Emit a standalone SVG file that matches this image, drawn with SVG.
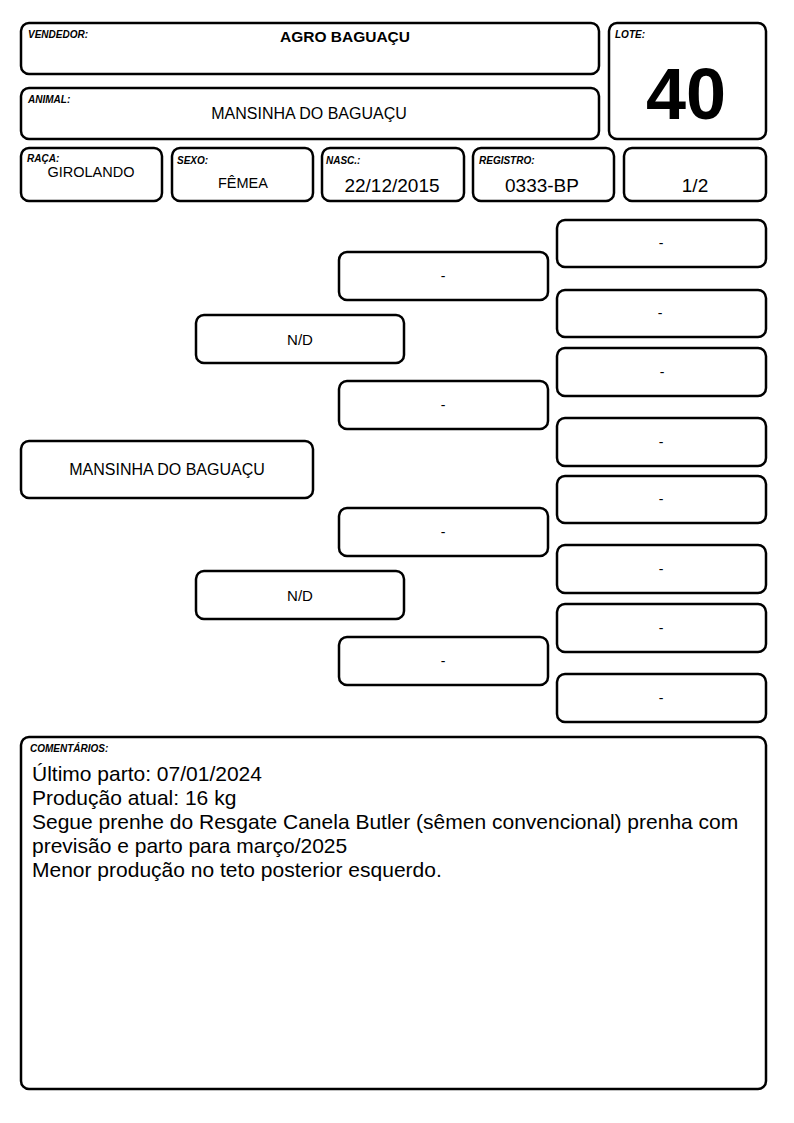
<svg xmlns="http://www.w3.org/2000/svg" width="794" height="1123" viewBox="0 0 794 1123">
<style>
.b{fill:#fff;stroke:#000;stroke-width:2.5}
.lb{font-family:"Liberation Sans",Arial,sans-serif;font-weight:bold;font-style:italic;font-size:10px;fill:#000}
.t{font-family:"Liberation Sans",Arial,sans-serif;fill:#000;text-anchor:middle}
.d{font-family:"Liberation Sans",Arial,sans-serif;fill:#000;text-anchor:middle;font-size:14px}
.c{font-family:"Liberation Sans",Arial,sans-serif;fill:#000;font-size:21px}
</style>
<rect width="794" height="1123" fill="#fff"/>
<g id="vendedor"><rect class="b" x="21" y="23" width="578" height="51" rx="8"/><text class="lb" x="28" y="38">VENDEDOR:</text><text class="t" x="345" y="42" font-size="15.5" font-weight="bold">AGRO BAGUAÇU</text></g>
<g id="animal"><rect class="b" x="21" y="88" width="578" height="51" rx="8"/><text class="lb" x="28" y="103">ANIMAL:</text><text class="t" x="309" y="119" font-size="16">MANSINHA DO BAGUAÇU</text></g>
<g id="lote"><rect class="b" x="609" y="23" width="157" height="116" rx="8"/><text class="lb" x="615" y="38">LOTE:</text><text class="t" x="686" y="119" font-size="72" font-weight="bold">40</text></g>
<g id="raca"><rect class="b" x="21" y="148" width="141" height="53" rx="8"/><text class="lb" x="27" y="162">RAÇA:</text><text class="t" x="91" y="177" font-size="14.5">GIROLANDO</text></g>
<g id="sexo"><rect class="b" x="172" y="148" width="141" height="53" rx="8"/><text class="lb" x="177" y="164">SEXO:</text><text class="t" x="243" y="188" font-size="14.5">FÊMEA</text></g>
<g id="nasc"><rect class="b" x="322" y="148" width="142" height="53" rx="8"/><text class="lb" x="326" y="164">NASC.:</text><text class="t" x="392" y="192" font-size="19">22/12/2015</text></g>
<g id="registro"><rect class="b" x="473" y="148" width="141" height="53" rx="8"/><text class="lb" x="479" y="164">REGISTRO:</text><text class="t" x="542" y="192" font-size="19">0333-BP</text></g>
<g id="fracao"><rect class="b" x="624" y="148" width="142" height="53" rx="8"/><text class="t" x="695" y="192" font-size="19">1/2</text></g>
<g id="connectors"></g>
<g id="p-animal"><rect class="b" x="21" y="441" width="292" height="57" rx="8"/><text class="t" x="167" y="475" font-size="16">MANSINHA DO BAGUAÇU</text></g>
<g id="p-pai"><rect class="b" x="196" y="315" width="208" height="48" rx="8"/><text class="t" x="300" y="345" font-size="15">N/D</text></g>
<g id="p-mae"><rect class="b" x="196" y="571" width="208" height="48" rx="8"/><text class="t" x="300" y="601" font-size="15">N/D</text></g>
<g id="m1"><rect class="b" x="339" y="252" width="209" height="48" rx="8"/><text class="d" x="443" y="281">-</text></g>
<g id="m2"><rect class="b" x="339" y="381" width="209" height="48" rx="8"/><text class="d" x="443" y="410">-</text></g>
<g id="m3"><rect class="b" x="339" y="508" width="209" height="48" rx="8"/><text class="d" x="443" y="537">-</text></g>
<g id="m4"><rect class="b" x="339" y="637" width="209" height="48" rx="8"/><text class="d" x="443" y="666">-</text></g>
<g id="r1"><rect class="b" x="557" y="220" width="209" height="47" rx="8"/><text class="d" x="661" y="248">-</text></g>
<g id="r2"><rect class="b" x="557" y="290" width="209" height="47" rx="8"/><text class="d" x="660" y="318">-</text></g>
<g id="r3"><rect class="b" x="557" y="348" width="209" height="48" rx="8"/><text class="d" x="662" y="377">-</text></g>
<g id="r4"><rect class="b" x="557" y="418" width="209" height="48" rx="8"/><text class="d" x="661" y="447">-</text></g>
<g id="r5"><rect class="b" x="557" y="476" width="209" height="47" rx="8"/><text class="d" x="661" y="504">-</text></g>
<g id="r6"><rect class="b" x="557" y="545" width="209" height="48" rx="8"/><text class="d" x="661" y="574">-</text></g>
<g id="r7"><rect class="b" x="557" y="604" width="209" height="48" rx="8"/><text class="d" x="661" y="633">-</text></g>
<g id="r8"><rect class="b" x="557" y="674" width="209" height="48" rx="8"/><text class="d" x="661" y="703">-</text></g>
<g id="comentarios"><rect class="b" x="21" y="737" width="745" height="352" rx="8"/><text class="lb" x="30" y="752">COMENTÁRIOS:</text>
<text class="c" x="32" y="781">Último parto: 07/01/2024</text>
<text class="c" x="32" y="805">Produção atual: 16 kg</text>
<text class="c" x="32" y="829">Segue prenhe do Resgate Canela Butler (sêmen convencional) prenha com</text>
<text class="c" x="32" y="853">previsão e parto para março/2025</text>
<text class="c" x="32" y="877">Menor produção no teto posterior esquerdo.</text>
</g>
</svg>
